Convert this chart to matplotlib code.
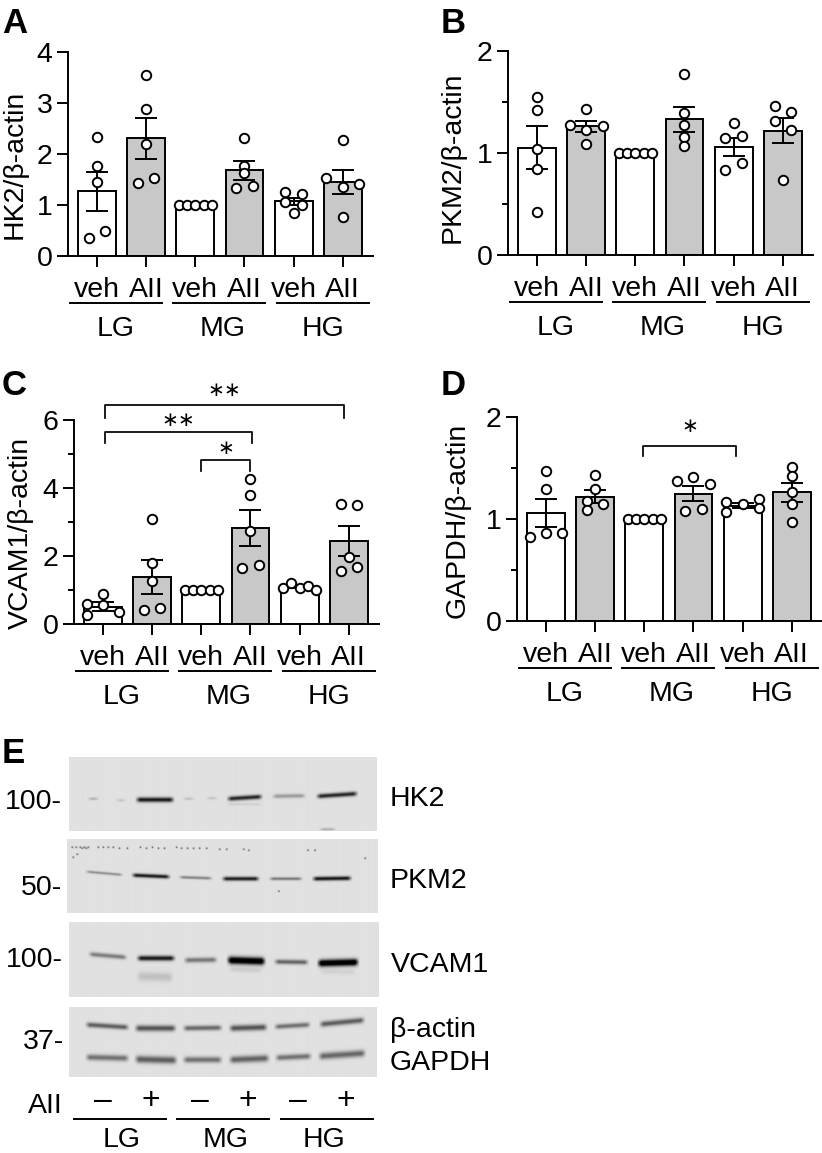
import numpy as np
import matplotlib
matplotlib.use('Agg')
from matplotlib import pyplot as plt

plt.rcParams['font.family'] = ['Liberation Sans', 'DejaVu Sans']

W, H = 822, 1153
FS = 20.5
LW = 1.4

# values, one list per bar
tick_labels = ['veh', 'AII', 'veh', 'AII', 'veh', 'AII']
groups = ['LG', 'MG', 'HG']
bar_fill = ['white', '#c8c8c8', 'white', '#c8c8c8', 'white', '#c8c8c8']

hk2_mean = [1.27, 2.31, 1.0, 1.68, 1.07, 1.45]
hk2_sem = [0.38, 0.40, 0, 0.18, 0.07, 0.24]
hk2_pts = [[2.34, 1.77, 1.45, 0.5, 0.35], [3.55, 2.89, 2.2, 1.53, 1.44], [1, 1, 1, 1, 1],
           [2.31, 1.77, 1.62, 1.37, 1.33], [1.26, 1.22, 1.05, 1.0, 0.84], [2.27, 1.53, 1.41, 1.36, 0.76]]
hk2_off = [[0, 0, 0, 1, -1], [0, 0, 0, 1, -1], [-2, -1, 0, 1, 2],
           [0, 0, 0, 1, -1], [-1, 1, -1, 1, 0], [0, -2, 2, 0, 0]]

pkm2_mean = [1.05, 1.26, 1.0, 1.33, 1.06, 1.22]
pkm2_sem = [0.21, 0.055, 0, 0.125, 0.09, 0.125]
pkm2_pts = [[1.55, 1.42, 1.04, 0.84, 0.42], [1.43, 1.27, 1.26, 1.23, 1.09], [1, 1, 1, 1, 1],
            [1.77, 1.39, 1.27, 1.16, 1.07], [1.29, 1.15, 1.17, 0.90, 0.83], [1.46, 1.40, 1.31, 1.23, 0.74]]
pkm2_off = [[0, 0, 0, 0, 0], [0, -2, 2, 0, 0], [-2, -1, 0, 1, 2],
            [0, 0, 0, 0, 0], [0, -1, 1, 1, -1], [-1, 1, -1, 1, 0]]

vcam1_mean = [0.51, 1.39, 1.0, 2.82, 1.09, 2.44]
vcam1_sem = [0.14, 0.50, 0, 0.52, 0.04, 0.45]
vcam1_pts = [[0.89, 0.6, 0.55, 0.36, 0.27], [3.08, 1.78, 1.26, 0.46, 0.41], [1, 1, 1, 1, 1],
             [4.26, 3.78, 2.73, 1.74, 1.65], [1.07, 1.2, 1.07, 1.12, 0.99], [3.53, 3.51, 1.96, 1.68, 1.57]]
vcam1_off = [[0, -2, 0, 2, -2], [0, 0, 0, 1, -1], [-2, -1, 0, 1, 2],
             [0, 0, 0, 1, -1], [-2, -1, 0, 1, 2], [-1, 1, 0, 1, -1]]

gapdh_mean = [1.06, 1.22, 1.0, 1.25, 1.13, 1.26]
gapdh_sem = [0.135, 0.065, 0, 0.075, 0.025, 0.095]
gapdh_pts = [[1.47, 1.29, 0.86, 0.86, 0.82], [1.43, 1.29, 1.18, 1.15, 1.09], [1, 1, 1, 1, 1],
             [1.41, 1.37, 1.34, 1.10, 1.08], [1.2, 1.17, 1.15, 1.11, 1.07], [1.51, 1.42, 1.26, 1.15, 0.97]]
gapdh_off = [[0, 0, 0, 2, -2], [0, 0, -1, 1, -1], [-2, -1, 0, 1, 2],
             [0, -2, 2, 1, -1], [2, -2, 0, 2, -2], [0, 0, 0, 0, 0]]

# brackets: x from, x to, top value, foot value, stars, star value
vcam1_brackets = [(0.05, 4.9, 6.43, 6.06, '**', 6.87), (0.05, 3.03, 5.66, 5.32, '**', 5.98),
                  (1.99, 3.0, 4.81, 4.51, '*', 5.15)]
gapdh_brackets = [(1.98, 3.86, 1.715, 1.617, '*', 1.905)]

# blot bands: x1, x2, y1, y2 (picture px), darkness, thickness
hk2_bands = [(89, 97, 798.5, 798.5, 0.2, 1.3), (117, 124, 800, 800, 0.12, 1.3), (137, 172, 799.5, 799.5, 0.8, 2.4),
             (184, 192, 798.5, 798.5, 0.14, 1.3), (207, 215, 798, 798, 0.12, 1.3), (228, 260, 798.5, 796.5, 0.75, 2.2),
             (273, 303, 796, 795.5, 0.28, 2.0), (317, 355, 796, 793.5, 0.75, 2.2), (228, 260, 804, 804, 0.07, 1.3),
             (320, 333, 829, 829, 0.2, 1.3)]
pkm2_bands = [(87, 121, 871.5, 874.5, 0.33, 1.3), (133, 168, 875, 876.5, 0.8, 1.9), (180, 210, 877, 878, 0.38, 1.4),
              (223, 257, 878.5, 878.5, 0.78, 2.0), (270, 300, 878.5, 878.5, 0.42, 1.5), (313, 349, 878.5, 878, 0.82, 2.0)]
vcam1_bands = [(90, 125, 954, 957, 0.4, 2.3), (138, 173, 958, 958, 0.8, 2.5), (185, 215, 960, 959.5, 0.42, 2.5),
               (228, 263, 960, 961, 1.1, 3.6), (275, 306, 961.5, 962, 0.5, 2.3), (318, 356, 963, 962, 1.1, 3.4),
               (138, 171, 976, 977, 0.13, 4.5), (230, 260, 969, 970, 0.08, 2.5), (320, 353, 971, 972, 0.06, 2.5)]
actin_bands = [(87, 127, 1024.5, 1027, 0.52, 2.5), (136, 174, 1028, 1028, 0.56, 3.0), (184, 220, 1028, 1027.5, 0.48, 2.5),
               (230, 265, 1028, 1027, 0.56, 3.0), (275, 308, 1026.5, 1024.5, 0.45, 2.4), (320, 362, 1024, 1020, 0.52, 2.8),
               (87, 127, 1057, 1058, 0.44, 3.0), (136, 175, 1059, 1060, 0.52, 3.6), (184, 220, 1059.5, 1059.5, 0.44, 3.0),
               (230, 267, 1059.5, 1058, 0.5, 3.4), (276, 309, 1057.5, 1056, 0.44, 2.8), (319, 363, 1056, 1053, 0.48, 3.4)]
pkm2_specks = [(72, 847), (76, 847), (80, 847), (82, 848), (84, 847), (86, 848), (88, 847), (98, 847), (103, 847), (108, 847),
               (113, 847), (119, 848), (127, 848), (140, 847), (146, 848), (152, 847), (158, 848), (164, 848), (176, 847),
               (181, 848), (187, 848), (193, 848), (199, 848), (206, 848), (219, 849), (226, 849), (243, 849), (248, 850),
               (307, 850), (314, 850), (364, 858), (278, 891), (77, 854), (73, 857)]


def px_text(x, y, s, **kw):
    return fig.text(x / W, 1 - y / H, s, va=kw.pop('va', 'baseline'), fontsize=kw.pop('fontsize', FS), **kw)


def px_line(x1, x2, y, lw=LW):
    fig.add_artist(plt.Line2D([x1 / W, x2 / W], [1 - y / H, 1 - y / H], color='black', lw=lw, transform=fig.transFigure))


def bar_panel(x0, x1, y_top, y_bot, tick0, ymax, major, minor, means, sems, pts, off, ylabel, ylabel_xy):
    ax = fig.add_axes([x0 / W, 1 - y_bot / H, (x1 - x0) / W, (y_bot - y_top) / H])
    step = 49.15
    ax.set_xlim((x0 - tick0) / step, (x1 - tick0) / step)
    ax.set_ylim(0, ymax)
    xs = np.arange(6)
    ax.bar(xs, means, width=0.77, color=bar_fill, edgecolor='black', linewidth=LW, zorder=2)
    for i in xs:
        if sems[i] > 0:
            ax.errorbar(i, means[i], yerr=sems[i], color='black', elinewidth=LW, capsize=7.7, capthick=LW, zorder=3)
        ax.plot(i + np.array(off[i]) * 0.167, pts[i], 'o', ms=6.8, mfc='white', mec='black', mew=1.4, zorder=4, clip_on=False)
    for s in ['top', 'right']:
        ax.spines[s].set_visible(False)
    for s in ['left', 'bottom']:
        ax.spines[s].set_linewidth(LW)
    ax.set_xticks(xs, tick_labels, fontsize=FS)
    ax.set_yticks(major, [str(m) for m in major], fontsize=FS)
    ax.set_yticks(minor, minor=True)
    ax.tick_params(axis='both', which='major', length=8, width=LW, pad=3)
    ax.tick_params(axis='x', pad=7)
    ax.tick_params(axis='y', which='minor', length=4, width=LW)
    px_text(ylabel_xy[0], ylabel_xy[1], ylabel, rotation=90, ha='center', va='center')
    # group underlines and names under the ticks
    for i, g in enumerate(groups):
        left = tick0 - 27 + 103.3 * i
        px_line(left, left + 92, y_bot + 47)
    for g, dx in zip(groups, [19, 126, 226]):
        px_text(tick0 + dx, y_bot + 80, g, ha='center')
    return ax


def add_brackets(ax, brackets):
    for xa, xb, top, foot, stars, star_y in brackets:
        ax.plot([xa, xa, xb, xb], [foot, top, top, foot], color='black', lw=1.25, clip_on=False,
                solid_joinstyle='round', zorder=5)
        ax.text((xa + xb) / 2, star_y, stars.replace('*', '\u2217'), ha='center', va='center',
                fontsize=14.5, family='DejaVu Sans', clip_on=False)


def blot(x0, x1, y0, y1, bands, specks=()):
    yy, xx = np.mgrid[y0:y1:0.5, x0:x1:0.5]
    img = np.full(xx.shape, 0.88)
    for xa, xb, ya, yb, dark, thick in bands:
        yc = ya + (yb - ya) * (xx - xa) / (xb - xa)
        edge = np.clip((xx - xa + 2.5) / 5, 0, 1) * np.clip((xb - xx + 2.5) / 5, 0, 1)
        img -= dark * np.exp(-((yy - yc) / thick) ** 2) * edge
    for sx, sy in specks:
        img -= 0.7 * np.exp(-((xx - sx) ** 2 + (yy - sy) ** 2) / 0.6)
    ax = fig.add_axes([x0 / W, 1 - y1 / H, (x1 - x0) / W, (y1 - y0) / H])
    ax.imshow(np.clip(img, 0, 1), cmap='gray', vmin=0, vmax=1, aspect='auto', interpolation='bilinear')
    ax.axis('off')


fig = plt.figure(figsize=(W / 100, H / 100), dpi=100)

bar_panel(68, 373, 52, 256, 97, 4, [0, 1, 2, 3, 4], [], hk2_mean, hk2_sem, hk2_pts, hk2_off,
          'HK2/β-actin', (15, 164))
bar_panel(508, 813, 51, 255, 537, 2, [0, 1, 2], [0.5, 1.5], pkm2_mean, pkm2_sem, pkm2_pts, pkm2_off,
          'PKM2/β-actin', (453, 157))
ax_c = bar_panel(74, 379, 420, 624, 103, 6, [0, 2, 4, 6], [1, 3, 5], vcam1_mean, vcam1_sem, vcam1_pts, vcam1_off,
                 'VCAM1/β-actin', (21, 533))
ax_d = bar_panel(517, 822, 417, 621, 546, 2, [0, 1, 2], [0.5, 1.5], gapdh_mean, gapdh_sem, gapdh_pts, gapdh_off,
                 'GAPDH/β-actin', (458, 520))
add_brackets(ax_c, vcam1_brackets)
add_brackets(ax_d, gapdh_brackets)

for letter, x, y in [('A', 2, 33), ('B', 441, 33), ('C', 2, 395), ('D', 441, 395), ('E', 2, 763)]:
    px_text(x, y, letter, fontsize=25, fontweight='bold')

blot(69, 376, 757, 831, hk2_bands)
blot(67, 377, 839, 913, pkm2_bands, pkm2_specks)
blot(69, 378, 922, 997, vcam1_bands)
blot(69, 376, 1007, 1077, actin_bands)

for s, x, y in [('100-', 62, 809), ('50-', 62, 895), ('100-', 63, 967), ('37-', 64, 1049), ('AII', 63, 1113)]:
    px_text(x, y, s, ha='right')
for s, x, y in [('HK2', 390, 806), ('PKM2', 390, 888), ('VCAM1', 391, 972), ('β-actin', 390, 1037), ('GAPDH', 390, 1070)]:
    px_text(x, y, s)
for s, x in zip(['\u2013', '+', '\u2013', '+', '\u2013', '+'], [103, 151, 200, 248, 298, 346]):
    px_text(x, 1101, s, ha='center', va='center', fontsize=23)
for left in [74, 177, 281]:
    px_line(left, left + 92, 1119)
for g, x in zip(groups, [122, 226, 324]):
    px_text(x, 1147, g, ha='center')

fig.savefig('out.png', dpi=100)
